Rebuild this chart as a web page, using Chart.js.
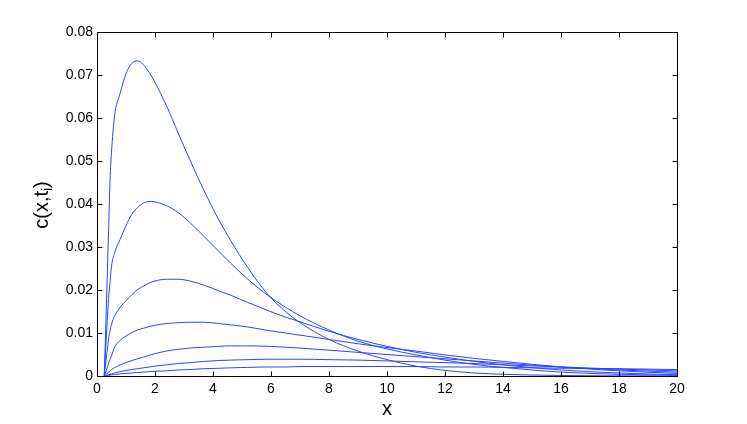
<!DOCTYPE html>
<html>
<head>
<meta charset="utf-8">
<script src="https://cdn.jsdelivr.net/npm/chart.js@4/dist/chart.umd.min.js"></script>
<style>
    html, body { margin: 0; padding: 0; background: #fff; }
    #wrap { width: 747px; height: 424px; position: relative; }
</style>
</head>
<body>
<div id="wrap"><canvas id="concChart"></canvas></div>
<script>
// Posisi x (sama untuk semua kurva)
const xs = [0.25, 0.3, 0.35, 0.4, 0.45, 0.5, 0.6, 0.8, 1, 1.2, 1.4, 1.6, 1.8, 2, 2.4, 2.8, 3.2, 3.7,
    4.2, 4.6, 5.2, 5.9, 6.5, 7, 8, 9, 10, 11, 12, 13, 14, 16, 18, 20];

// c(x, t_i) untuk tiap waktu t_i
const c1 = [0, 0.011, 0.0225, 0.034, 0.0456, 0.052, 0.0602, 0.0658, 0.0703, 0.0727, 0.0733, 0.0724, 0.0706,
    0.0683, 0.0628, 0.0565, 0.0503, 0.043, 0.0363, 0.0316, 0.0252, 0.0189, 0.015, 0.0124, 0.0085, 0.0058,
    0.0038, 0.0023, 0.0013, 0.0007, 0.0004, 0.00012, 0.00004, 0.00001];
const c2 = [0, 0.0065, 0.0125, 0.018, 0.0218, 0.0255, 0.0285, 0.0318, 0.035, 0.0376, 0.0392, 0.0402, 0.0406,
    0.0405, 0.0396, 0.038, 0.0357, 0.0324, 0.029, 0.0263, 0.0225, 0.0187, 0.016, 0.014, 0.0107, 0.0081,
    0.0063, 0.0049, 0.0037, 0.0027, 0.002, 0.0009, 0.0004, 0.00015];
const c3 = [0, 0.003, 0.0058, 0.0086, 0.0105, 0.012, 0.0138, 0.016, 0.0175, 0.0189, 0.0201, 0.0209, 0.0216,
    0.0221, 0.0225, 0.0225, 0.0221, 0.0211, 0.0198, 0.0188, 0.0171, 0.0152, 0.0137, 0.0126, 0.0104, 0.0085,
    0.0069, 0.0055, 0.0044, 0.0034, 0.0026, 0.0014, 0.0007, 0.0003];
const c4 = [0, 0.0009, 0.0019, 0.003, 0.0039, 0.0047, 0.0066, 0.0083, 0.0093, 0.0101, 0.0107, 0.0111, 0.0115,
    0.0118, 0.0122, 0.0124, 0.0125, 0.0125, 0.0122, 0.0119, 0.0114, 0.0106, 0.01, 0.0095, 0.0085, 0.0075,
    0.0066, 0.0058, 0.0049, 0.0041, 0.0034, 0.0021, 0.0012, 0.0006];
const c5 = [0, 0.0003, 0.0006, 0.0009, 0.0012, 0.0015, 0.0019, 0.0026, 0.0031, 0.0036, 0.004, 0.0044, 0.0048,
    0.0052, 0.0058, 0.0062, 0.0065, 0.0067, 0.0069, 0.007, 0.007, 0.0069, 0.0067, 0.0065, 0.006, 0.0055,
    0.005, 0.0045, 0.004, 0.0035, 0.003, 0.0021, 0.0014, 0.0009];
const c6 = [0, 0.0001, 0.0002, 0.0003, 0.0004, 0.0005, 0.0007, 0.001, 0.0013, 0.0015, 0.0017, 0.0019, 0.0021,
    0.0023, 0.0026, 0.0029, 0.0031, 0.0034, 0.0036, 0.0037, 0.0038, 0.0039, 0.0039, 0.0039, 0.0038, 0.0037,
    0.0035, 0.0033, 0.0031, 0.0029, 0.0026, 0.0021, 0.0016, 0.0012];
const c7 = [0, 0.00005, 0.0001, 0.00015, 0.0002, 0.00025, 0.0003, 0.0005, 0.0006, 0.0007, 0.0008, 0.0009, 0.001,
    0.0011, 0.0012, 0.0014, 0.0015, 0.0017, 0.0018, 0.0019, 0.002, 0.0021, 0.0021, 0.0022, 0.0022, 0.0022,
    0.0022, 0.0022, 0.0021, 0.0021, 0.002, 0.0018, 0.0017, 0.0015];
const curves = [c1, c2, c3, c4, c5, c6, c7];

// Label sumbu
const xTitle = 'x';
const yTitle = 'c(x,t';
const ySub = 'i';

const FONT = '"Liberation Sans", Arial, Helvetica, sans-serif';
const LINE_COLOR = 'rgb(40, 70, 255)';

// Kotak sumbu ala MATLAB: garis tepi + tick ke dalam di keempat sisi
const framePlugin = {
    id: 'frame',
    afterDatasetsDraw: function(chart) {
        const { ctx, chartArea: a, scales: { x, y } } = chart;
        const L = Math.round(a.left) + 0.5, R = Math.round(a.right) + 0.5;
        const T = Math.round(a.top) + 0.5, B = Math.round(a.bottom) + 0.5;
        const len = 5;
        ctx.save();
        ctx.strokeStyle = '#000';
        ctx.lineWidth = 1;
        ctx.strokeRect(L, T, R - L, B - T);
        ctx.beginPath();
        x.ticks.forEach(function(t) {
            const px = Math.round(x.getPixelForValue(t.value)) + 0.5;
            ctx.moveTo(px, B); ctx.lineTo(px, B - len);
            ctx.moveTo(px, T); ctx.lineTo(px, T + len);
        });
        y.ticks.forEach(function(t) {
            const py = Math.round(y.getPixelForValue(t.value)) + 0.5;
            ctx.moveTo(L, py); ctx.lineTo(L + len, py);
            ctx.moveTo(R, py); ctx.lineTo(R - len, py);
        });
        ctx.stroke();

        // Judul sumbu x
        ctx.fillStyle = '#000';
        ctx.font = '20px ' + FONT;
        ctx.textAlign = 'center';
        ctx.textBaseline = 'alphabetic';
        ctx.fillText(xTitle, (a.left + a.right) / 2, 415);

        // Judul sumbu y dengan subskrip
        ctx.translate(48, (a.top + a.bottom) / 2 + 1);
        ctx.rotate(-Math.PI / 2);
        ctx.textAlign = 'left';
        ctx.font = '20px ' + FONT;
        const w1 = ctx.measureText(yTitle).width;
        const w3 = ctx.measureText(')').width;
        ctx.font = '14px ' + FONT;
        const w2 = ctx.measureText(ySub).width;
        let start = -(w1 + w2 + w3) / 2;
        ctx.font = '20px ' + FONT;
        ctx.fillText(yTitle, start, 0);
        ctx.font = '14px ' + FONT;
        ctx.fillText(ySub, start + w1, 4);
        ctx.font = '20px ' + FONT;
        ctx.fillText(')', start + w1 + w2, 0);
        ctx.restore();
    }
};

const datasets = curves.map(function(vals) {
    return {
        data: xs.map(function(x, i) { return { x: x, y: vals[i] }; }),
        showLine: true,
        borderColor: LINE_COLOR,
        borderWidth: 1,
        pointRadius: 0,
        cubicInterpolationMode: 'monotone',
        fill: false
    };
});

new Chart(document.getElementById('concChart').getContext('2d'), {
    type: 'scatter',
    data: { datasets: datasets },
    plugins: [framePlugin],
    options: {
        animation: false,
        responsive: true,
        maintainAspectRatio: false,
        layout: { padding: { top: 32, right: 70, left: 0, bottom: 0 } },
        plugins: {
            legend: { display: false },
            tooltip: { enabled: false }
        },
        scales: {
            x: {
                type: 'linear',
                min: 0,
                max: 20,
                ticks: {
                    stepSize: 2,
                    padding: 5,
                    color: '#000',
                    maxRotation: 0,
                    autoSkip: false,
                    font: { family: FONT, size: 14 }
                },
                grid: { display: false, drawTicks: false },
                border: { display: false },
                afterFit: function(scale) { scale.height = 48; }
            },
            y: {
                type: 'linear',
                min: 0,
                max: 0.08,
                ticks: {
                    stepSize: 0.01,
                    padding: 4,
                    color: '#000',
                    font: { family: FONT, size: 14 },
                    callback: function(v) { return v === 0 ? '0' : String(+v.toFixed(2)); }
                },
                grid: { display: false, drawTicks: false },
                border: { display: false },
                afterFit: function(scale) { scale.width = 97; }
            }
        }
    }
});
</script>
</body>
</html>
